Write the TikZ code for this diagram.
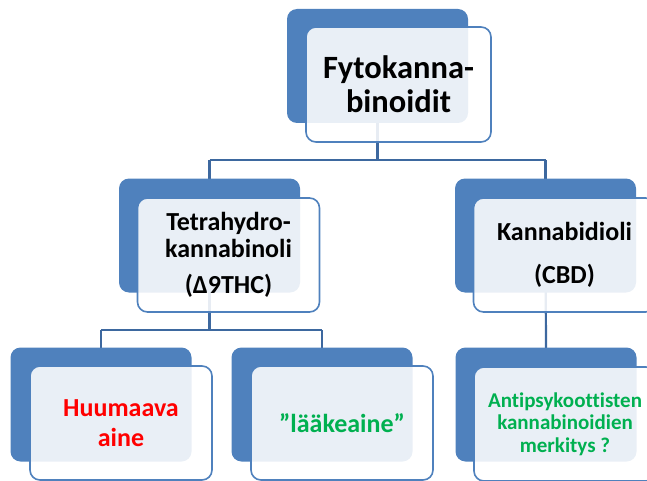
\documentclass[tikz,border=0pt]{standalone}
\usepackage{fontspec}
\setmainfont{Carlito}[Ligatures=CommonOff]
\usetikzlibrary{backgrounds}
\definecolor{accblue}{HTML}{4F81BD}
\definecolor{connblue}{HTML}{3D689F}
\definecolor{txtgreen}{HTML}{00B050}
\definecolor{txtred}{HTML}{FF0000}
\begin{document}
\begin{tikzpicture}[x=1pt,y=-1pt,
  backbox/.style={draw=none,fill=accblue,rounded corners=10pt,minimum width=181pt,minimum height=114pt,inner sep=0pt},
  frontbox/.style={draw=accblue,line width=1.6pt,fill=white,fill opacity=0.88,text opacity=1,rounded corners=10pt,minimum width=182pt,minimum height=114pt,inner sep=0pt,align=center},
  conn/.style={draw=connblue,line width=2.2pt}]
\useasboundingbox (0,0) rectangle (647,481);
\clip (0,0) rectangle (647,481);
% back boxes
\node[backbox] (b1) at (377.5,66) {};
\node[backbox] (b2) at (209.5,235.5) {};
\node[backbox] (b3) at (545.5,235.5) {};
\node[backbox] (b4) at (101,404.5) {};
\node[backbox] (b5) at (322,404.5) {};
\node[backbox] (b6) at (546,404.5) {};
% front boxes
\node[frontbox,minimum width=185pt,minimum height=115pt,font=\bfseries\fontsize{32.5}{33.7}\selectfont] (f1) at (398.5,84.5)
  {Fytokanna-\\binoidit};
\node[frontbox,font=\bfseries\fontsize{26}{27}\selectfont] (f2) at (228.5,255)
  {Tetrahydro-\\kannabinoli\\[9pt](Δ9THC)};
\node[frontbox,font=\bfseries\fontsize{26}{43}\selectfont] (f3) at (564.5,255)
  {Kannabidioli\\(CBD)};
\node[frontbox,text=txtred,font=\bfseries\fontsize{26}{30}\selectfont] (f4) at (121,423)
  {Huumaava\\aine};
\node[frontbox,text=txtgreen,font=\bfseries\fontsize{26}{30}\selectfont] (f5) at (342,423)
  {”lääkeaine”};
\node[frontbox,text=txtgreen,font=\bfseries\fontsize{21}{22.5}\selectfont] (f6) at (565,424)
  {Antipsykoottisten\\kannabinoidien\\merkitys ?};
% connectors
\coordinate (j1) at (0,160);
\coordinate (j2) at (0,330);
\begin{scope}[on background layer]
\draw[conn] (b1.center) -- (b1.center |- j1);
\draw[conn] (b2.north |- j1) -- (b3.north |- j1);
\draw[conn] (b2.north |- j1) -- ([yshift=-1.5pt]b2.north);
\draw[conn] (b3.north |- j1) -- ([yshift=-1.5pt]b3.north);
\draw[conn] (b2.center) -- (b2.center |- j2);
\draw[conn] (b4.north |- j2) -- (b5.north |- j2);
\draw[conn] (b4.north |- j2) -- ([yshift=-3pt]b4.north);
\draw[conn] (b5.north |- j2) -- ([yshift=-3pt]b5.north);
\draw[conn] (b3.center) -- ([yshift=-3pt]b6.north);
\end{scope}
\end{tikzpicture}
\end{document}
